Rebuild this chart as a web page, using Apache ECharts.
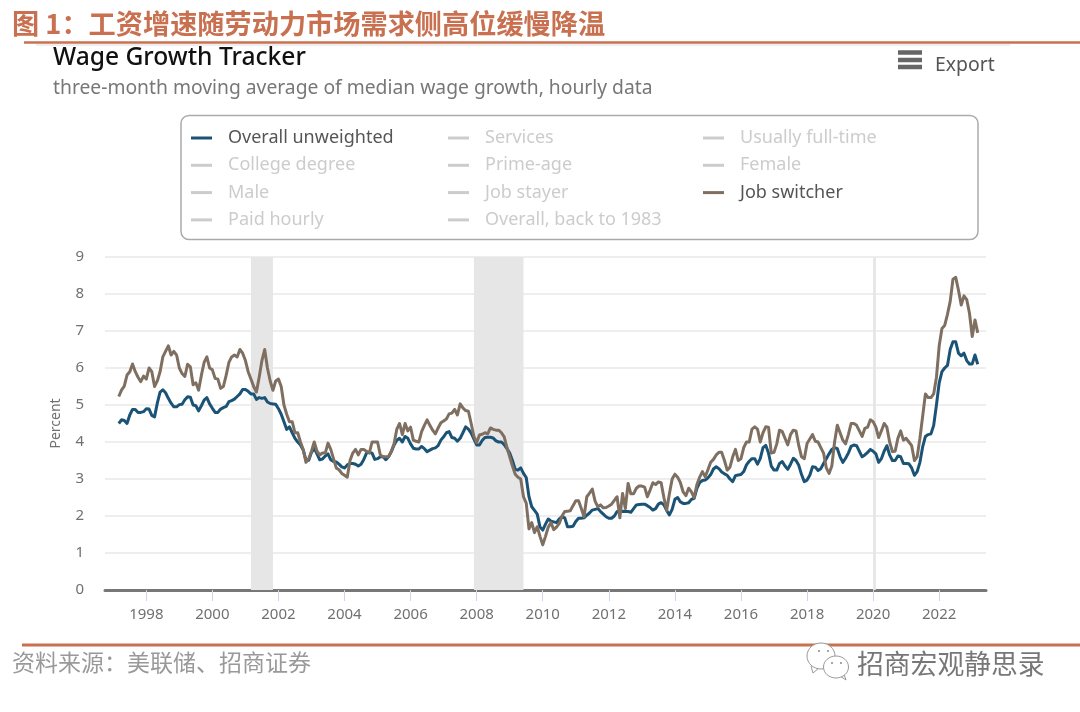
<!DOCTYPE html>
<html>
<head>
<meta charset="utf-8">
<style>
  html, body { margin: 0; padding: 0; background: #fff; }
  #main { width: 1080px; height: 712px; }
</style>
<script src="https://cdn.jsdelivr.net/npm/echarts@6/dist/echarts.min.js"></script>
</head>
<body>
<div id="main"></div>
<script>
// monthly values, March 1997 to March 2023
const overallUnweighted = [
  4.5, 4.6, 4.58, 4.5, 4.73, 4.88, 4.88, 4.8, 4.8, 4.82,
  4.9, 4.89, 4.72, 4.68, 5.05, 5.35, 5.41, 5.33, 5.18, 5.05, 4.95, 4.95,
  5.01, 5.02, 5.14, 5.22, 5.21, 5.0, 4.98, 4.84, 4.98, 5.13, 5.2, 5.03,
  4.91, 4.8, 4.8, 4.89, 4.93, 4.96, 5.09, 5.12, 5.16, 5.23, 5.3, 5.42,
  5.42, 5.37, 5.3, 5.3, 5.15, 5.2, 5.18, 5.2, 5.08, 5.04, 5.03, 5.02,
  4.9, 4.75, 4.55, 4.34, 4.41, 4.25, 4.1, 4.0, 3.92, 3.78, 3.51, 3.51,
  3.72, 3.83, 3.68, 3.52, 3.54, 3.62, 3.68, 3.52, 3.47, 3.46, 3.4, 3.33,
  3.3, 3.38, 3.42, 3.42, 3.4, 3.35, 3.4, 3.53, 3.7, 3.72, 3.7, 3.53,
  3.55, 3.6, 3.6, 3.52, 3.6, 3.74, 3.92, 4.05, 4.1, 4.0, 4.15, 4.1,
  3.95, 3.83, 3.81, 3.81, 3.88, 3.82, 3.74, 3.78, 3.82, 3.84, 3.9, 4.05,
  4.14, 4.25, 4.28, 4.12, 4.1, 4.02, 4.1, 4.25, 4.41, 4.35, 4.24, 4.08,
  3.92, 3.92, 4.04, 4.12, 4.13, 4.13, 4.11, 4.03, 4.0, 4.0, 3.93, 3.82,
  3.7, 3.5, 3.26, 3.24, 3.3, 3.15, 3.04, 2.52, 2.25, 2.15, 2.05, 1.7,
  1.62, 1.78, 1.92, 1.86, 1.84, 1.82, 1.92, 1.98, 1.95, 1.71, 1.71, 1.72,
  1.85, 1.94, 1.94, 1.95, 2.02, 2.08, 2.16, 2.18, 2.2, 2.12, 2.05, 1.98,
  1.94, 1.94, 2.0, 2.12, 2.12, 2.13, 2.12, 2.12, 2.1, 2.2, 2.3, 2.31,
  2.32, 2.32, 2.28, 2.23, 2.16, 2.2, 2.32, 2.36, 2.3, 2.15, 2.03, 2.18,
  2.45, 2.5, 2.38, 2.34, 2.34, 2.36, 2.45, 2.48, 2.75, 2.9, 2.96, 2.97,
  3.03, 3.12, 3.27, 3.33, 3.28, 3.19, 3.14, 3.1, 3.0, 2.93, 3.09, 3.11,
  3.12, 3.2, 3.38, 3.48, 3.55, 3.55, 3.4, 3.55, 3.85, 3.91, 3.7, 3.35,
  3.24, 3.24, 3.42, 3.47, 3.35, 3.26, 3.4, 3.56, 3.5, 3.37, 3.12, 2.93,
  2.97, 3.1, 3.33, 3.32, 3.23, 3.28, 3.42, 3.55, 3.68, 3.8, 3.85, 3.82,
  3.6, 3.45, 3.56, 3.7, 3.88, 3.92, 3.9, 3.75, 3.6, 3.65, 3.72, 3.8,
  3.75, 3.68, 3.45, 3.55, 3.75, 3.9, 3.65, 3.5, 3.5, 3.62, 3.6, 3.42,
  3.42, 3.41, 3.3, 3.1, 3.2, 3.45, 3.87, 4.15, 4.2, 4.22, 4.45, 5.0,
  5.6, 5.9, 6.0, 6.07, 6.5, 6.71, 6.71, 6.4, 6.33, 6.4, 6.2, 6.11,
  6.11, 6.35, 6.1
];
const jobSwitcher = [
  5.23, 5.4, 5.51, 5.81, 5.9, 6.11, 5.9, 5.75, 5.63, 5.78,
  5.7, 6.0, 5.9, 5.5, 5.65, 5.9, 6.3, 6.45, 6.6, 6.35, 6.45, 6.35,
  6.0, 5.85, 5.77, 6.1, 6.03, 5.55, 5.6, 5.4, 5.8, 6.15, 6.3, 6.0,
  5.95, 5.72, 5.7, 5.45, 5.5, 5.8, 6.15, 6.3, 6.35, 6.3, 6.5, 6.4,
  6.2, 5.9, 5.7, 5.5, 5.35, 5.75, 6.2, 6.5, 6.0, 5.65, 5.4, 5.65,
  5.7, 5.5, 5.0, 4.75, 4.55, 4.55, 4.25, 4.25, 4.0, 3.8, 3.45, 3.55,
  3.75, 4.0, 3.75, 3.65, 3.7, 3.7, 3.97, 3.8, 3.55, 3.3, 3.25, 3.15,
  3.1, 3.05, 3.5, 3.7, 3.8, 3.65, 3.8, 3.8, 3.75, 3.7, 4.0, 4.0,
  4.0, 3.65, 3.6, 3.6, 3.6, 3.75, 3.95, 4.35, 4.5, 4.2, 4.5, 4.3,
  4.4, 4.05, 4.02, 4.0, 4.28, 4.45, 4.6, 4.45, 4.32, 4.22, 4.38, 4.52,
  4.57, 4.62, 4.76, 4.78, 4.88, 4.73, 5.03, 4.92, 4.85, 4.83, 4.5, 4.15,
  3.98, 4.19, 4.21, 4.25, 4.22, 4.38, 4.34, 4.32, 4.32, 4.25, 4.14, 3.85,
  3.6, 3.35, 3.13, 3.05, 3.0, 2.52, 2.35, 1.65, 1.82, 1.55, 1.71, 1.45,
  1.22, 1.45, 1.7, 1.82, 1.63, 1.7, 1.8, 2.0, 2.12, 2.13, 2.14, 2.28,
  2.41, 2.41, 2.2, 1.98, 2.52, 2.62, 2.73, 2.4, 2.25, 2.3, 2.22, 2.23,
  2.27, 2.32, 2.42, 2.52, 1.95, 2.61, 2.2, 2.88, 2.6, 2.6, 2.75, 2.81,
  2.81, 2.78, 2.52, 2.7, 2.9, 2.85, 2.92, 2.9, 2.5, 2.15, 2.6, 3.0,
  3.13, 3.05, 2.9, 2.65, 2.55, 2.75, 2.65, 2.5, 2.85, 3.05, 3.2, 3.06,
  3.25, 3.45, 3.53, 3.65, 3.72, 3.72, 3.5, 3.24, 3.32, 3.6, 3.8, 3.5,
  3.55, 3.85, 4.0, 4.0, 4.35, 4.41, 4.35, 4.0, 4.25, 4.41, 4.4, 3.7,
  3.72, 3.95, 4.32, 4.28, 4.1, 3.92, 4.2, 4.32, 4.3, 3.9, 3.6, 3.55,
  3.96, 4.08, 4.2, 4.02, 4.0, 3.85, 3.7, 3.3, 3.15, 3.35, 4.0, 4.45,
  4.25, 4.05, 3.95, 4.2, 4.5, 4.5, 4.45, 4.3, 4.15, 4.37, 4.4, 4.6,
  4.55, 4.4, 4.12, 4.3, 4.5, 4.4, 4.0, 3.74, 3.75, 4.1, 4.3, 4.05,
  4.1, 4.0, 3.9, 3.5, 3.6, 4.1, 4.7, 5.3, 5.2, 5.2, 5.3, 5.75,
  6.6, 7.07, 7.15, 7.45, 7.8, 8.4, 8.45, 8.1, 7.7, 7.95, 7.85, 7.48,
  6.85, 7.3, 6.95
];
const tickYears = ['1998', '2000', '2002', '2004', '2006', '2008', '2010', '2012', '2014', '2016', '2018', '2020', '2022'];
const recessions = [['2001-03', '2001-11'], ['2007-12', '2009-06'], ['2020-01', '2020-02']];
const legendColumns = [
  ['Overall unweighted', 'College degree', 'Male', 'Paid hourly'],
  ['Services', 'Prime-age', 'Job stayer', 'Overall, back to 1983'],
  ['Usually full-time', 'Female', 'Job switcher']
];

const seriesColors = { 'Overall unweighted': '#1a5376', 'Job switcher': '#7f6f60' };
const sans = '"Noto Sans", sans-serif';
const cjk = '"Noto Sans CJK SC", sans-serif';
const red = '#c8704f';

// axis runs Oct 1996 - Jun 2023, so the lines have some air on both sides
const months = [];
for (let y = 1996, m = 10; y < 2023 || m <= 6; m++) {
  if (m > 12) { m = 1; y++; }
  months.push(y + '-' + String(m).padStart(2, '0'));
}
const firstMonth = months.indexOf('1997-03');

function withMonths(values) {
  return values.map((v, i) => [months[firstMonth + i], v]);
}

const lineData = {
  'Overall unweighted': withMonths(overallUnweighted),
  'Job switcher': withMonths(jobSwitcher)
};

function isTick(index, value) {
  return value.slice(5) === '01' && tickYears.includes(value.slice(0, 4));
}

const legendNames = legendColumns.flat();
const series = legendNames.map(name => ({
  name,
  type: 'line',
  data: lineData[name] || [],
  showSymbol: false,
  symbol: 'none',
  animation: false,
  z: name === 'Job switcher' ? 4 : 3,
  lineStyle: { width: 3, color: seriesColors[name] || '#cccccc', join: 'round' },
  itemStyle: { color: seriesColors[name] || '#cccccc' }
}));
// recession bands hang off the first series
series[0].markArea = {
  silent: true,
  z: 1,
  itemStyle: { color: '#e6e6e6' },
  data: recessions.map(r => [{ xAxis: r[0] }, { xAxis: r[1] }])
};

const legendLeft = [186, 443, 698];
const legends = legendColumns.map((names, i) => ({
  left: legendLeft[i],
  top: 124,
  orient: 'vertical',
  selectedMode: false,
  icon: 'rect',
  itemWidth: 21,
  itemHeight: 3,
  itemGap: 9.3,
  textStyle: { fontFamily: sans, fontSize: 18, padding: [0, 0, 0, 11], height: 18, lineHeight: 18 },
  data: names.map(name => ({
    name,
    textStyle: { color: seriesColors[name] ? '#555555' : '#cccccc' }
  }))
}));

function label(text, x, y, size, color, family, weight) {
  return {
    type: 'text', x, y, silent: true, z: 5,
    style: { text, fill: color, fontFamily: family, fontSize: size, fontWeight: weight || 'normal', textVerticalAlign: 'middle' }
  };
}
function bar(x1, y1, x2, y2, color, width) {
  return { type: 'line', silent: true, shape: { x1, y1, x2, y2 }, style: { stroke: color, lineWidth: width } };
}
// wechat mark over the bottom rule
function bubble(cx, cy, rx, ry) {
  return { type: 'ellipse', silent: true, z: 3, shape: { cx, cy, rx, ry }, style: { fill: '#fff', stroke: '#999', lineWidth: 1 } };
}
function tail(points) {
  return { type: 'polyline', silent: true, z: 3, shape: { points }, style: { fill: 'none', stroke: '#999', lineWidth: 1 } };
}
function eye(cx, cy) {
  return { type: 'circle', silent: true, z: 4, shape: { cx, cy, r: 1 }, style: { fill: '#888' } };
}

const chart = echarts.init(document.getElementById('main'), null, { renderer: 'canvas' });
chart.setOption({
  animation: false,
  backgroundColor: '#fff',
  legend: legends,
  grid: { left: 105, right: 94, top: 257, bottom: 122 },
  xAxis: {
    type: 'category',
    data: months,
    boundaryGap: false,
    splitLine: { show: false },
    axisLine: { show: true, onZero: true, lineStyle: { color: '#777777', width: 3 } },
    axisTick: { show: true, length: 11, interval: isTick, lineStyle: { color: '#ccd6eb', width: 1 } },
    axisLabel: {
      color: '#707070', fontFamily: sans, fontSize: 15, margin: 17,
      interval: isTick,
      formatter: v => v.slice(0, 4)
    }
  },
  yAxis: {
    type: 'value',
    min: 0,
    max: 9,
    interval: 1,
    name: 'Percent',
    nameLocation: 'middle',
    nameGap: 42,
    nameTextStyle: { color: '#707070', fontFamily: sans, fontSize: 14 },
    axisLine: { show: false },
    axisTick: { show: false },
    axisLabel: { color: '#707070', fontFamily: sans, fontSize: 15, margin: 21 },
    splitLine: { lineStyle: { color: '#eeeeee', width: 2 } }
  },
  series,
  graphic: [
    label('图 1：工资增速随劳动力市场需求侧高位缓慢降温', 12, 24, 27.2, red, cjk, 'bold'),
    bar(24, 42.5, 1080, 42.5, red, 2.5),
    bar(36, 45, 1010, 45, '#dddddd', 1),
    label('Wage Growth Tracker', 53, 58, 24.6, '#111111', sans, 500),
    label('three-month moving average of median wage growth, hourly data', 53, 89, 19.3, '#777777', sans),
    bar(898, 52.5, 922, 52.5, '#666666', 4.5),
    bar(898, 60, 922, 60, '#666666', 4.5),
    bar(898, 67, 922, 67, '#666666', 4.5),
    label('Export', 935, 65, 19.4, '#555555', sans),
    {
      type: 'rect', silent: true, z: -1,
      shape: { x: 181, y: 115.5, width: 797, height: 124, r: 8 },
      style: { fill: 'none', stroke: '#aaaaaa', lineWidth: 1.5 }
    },
    bar(22, 645, 1080, 645, red, 3),
    label('资料来源：美联储、招商证券', 12, 662, 23, '#999999', cjk),
    tail([[811, 666], [813, 673], [819, 668]]),
    bubble(821, 656, 14, 13),
    tail([[840, 676], [846, 680], [844, 674]]),
    bubble(836, 667, 12.5, 11),
    eye(819, 651), eye(828, 651), eye(832, 663), eye(841, 663),
    label('招商宏观静思录', 857, 664, 26.8, '#777777', cjk)
  ]
});
</script>
</body>
</html>
